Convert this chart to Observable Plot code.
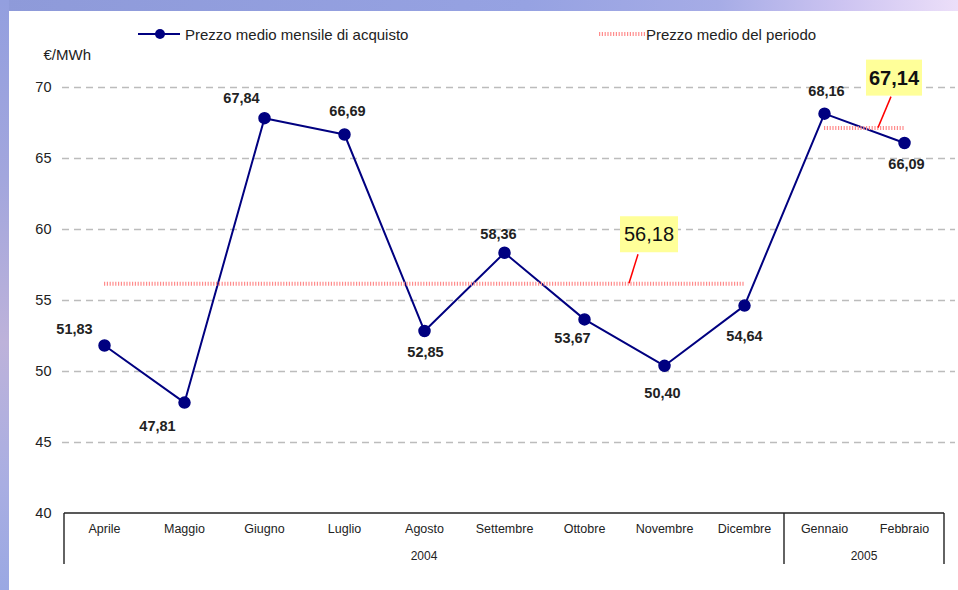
<!DOCTYPE html>
<html>
<head>
<meta charset="utf-8">
<script src="https://cdn.jsdelivr.net/npm/d3@7"></script>
<script src="https://cdn.jsdelivr.net/npm/@observablehq/plot@0.6"></script>
<style>
  html, body { margin: 0; padding: 0; }
  body {
    width: 958px; height: 590px; position: relative; overflow: hidden;
    background: linear-gradient(to right, #8e9ad9 0%, #96a2e2 55%, #a6ace6 75%, #cdc4f1 88%, #ecdff9 100%);
  }
  #leftstrip {
    position: absolute; left: 0; top: 0; width: 9px; height: 590px;
    background: linear-gradient(to bottom, #939fdf 0%, #a2a6dd 30%, #bdb2da 58%, #a9aee2 82%, #9aa8e3 100%);
  }
  #panel {
    position: absolute; left: 9px; top: 11px; width: 949px; height: 579px;
    background: #fff; font-family: "Liberation Sans", Arial, sans-serif; color: #222;
  }
  #legend { position: relative; height: 33px; }
  .lg-item { position: absolute; top: 8px; height: 30px; display: flex; align-items: center; font-size: 15px; }
  .lg-item svg { display: block; }
  #chart svg { display: block; }
</style>
</head>
<body>
<div id="leftstrip"></div>
<div id="panel">
  <div id="legend"></div>
  <div id="chart"></div>
</div>
<script>
// ---- data ----
const months = ["Aprile", "Maggio", "Giugno", "Luglio", "Agosto", "Settembre", "Ottobre", "Novembre", "Dicembre", "Gennaio", "Febbraio"];
const prices = [51.83, 47.81, 67.84, 66.69, 52.85, 58.36, 53.67, 50.40, 54.64, 68.16, 66.09];
const yearLabels = ["2004", "2005"];
const yearMonthCounts = [9, 2];
const periodMeans = [56.18, 67.14];
const periodStart = ["Aprile", "Gennaio"];
const periodEnd = ["Dicembre", "Febbraio"];
const calloutAnchor = ["Novembre", "Febbraio"];
const yTicks = [40, 45, 50, 55, 60, 65, 70];
const seriesName = "Prezzo medio mensile di acquisto";
const meanName = "Prezzo medio del periodo";
const unitLabel = "€/MWh";

// ---- layout (pixel offsets, styles) ----
const labelDx = [-30, -27, -23, 3, 1, -6, -12, -2, 0, 2, 2];
const labelDy = [-16, 24, -20, -23, 21, -18, 19, 28, 31, -22, 21];
const callout = [
  {bx: -15, by: -49, w: 58, h: 36, l1: [-35, 0], l2: [-26, -29], weight: "normal"},
  {bx: -10, by: -50, w: 56, h: 36, l1: [-26, 0], l2: [-13, -31], weight: "bold"}
];
const NAVY = "#000080";
const PINK = "#ff8c8c";
const fmt = v => v.toFixed(2).replace(".", ",");

// ---- legend ----
const legend = document.getElementById("legend");
legend.innerHTML = `
  <div class="lg-item" style="left:129px">
    <svg width="44" height="12"><line x1="0" y1="6" x2="42" y2="6" stroke="${NAVY}" stroke-width="2"/><circle cx="22" cy="6" r="5" fill="${NAVY}"/></svg>
    <span style="margin-left:3px">${seriesName}</span>
  </div>
  <div class="lg-item" style="left:590px">
    <svg width="47" height="12"><line x1="0" y1="6" x2="47" y2="6" stroke="${PINK}" stroke-width="4" stroke-dasharray="1.2,1.6"/></svg>
    <span>${meanName}</span>
  </div>`;

// ---- custom annotation layer (category box, years, callouts) ----
const annotate = (index, scales) => {
  const {x, y} = scales;
  const g = d3.create("svg:g");
  const step = x(months[1]) - x(months[0]);
  const yb = y(yTicks[0]);
  const boxH = 51;
  const left = x(months[0]) - step / 2;
  const right = x(months[months.length - 1]) + step / 2;
  g.append("line").attr("x1", left).attr("x2", right).attr("y1", yb).attr("y2", yb)
    .attr("stroke", "#222").attr("stroke-width", 1.4);
  const edges = [left];
  let k = 0;
  yearLabels.forEach((yl, j) => {
    const first = months[k], last = months[k + yearMonthCounts[j] - 1];
    k += yearMonthCounts[j];
    edges.push(x(last) + step / 2);
    g.append("text").attr("x", (x(first) + x(last)) / 2).attr("y", yb + 43)
      .attr("text-anchor", "middle").attr("dy", "0.35em")
      .attr("font-size", 12).attr("fill", "#222").text(yl);
  });
  edges.forEach(e => g.append("line").attr("x1", e).attr("x2", e).attr("y1", yb).attr("y2", yb + boxH)
    .attr("stroke", "#222").attr("stroke-width", 1.4));
  periodMeans.forEach((m, i) => {
    const ax = x(calloutAnchor[i]), ay = y(m), c = callout[i];
    g.append("line").attr("x1", ax + c.l1[0]).attr("y1", ay + c.l1[1])
      .attr("x2", ax + c.l2[0]).attr("y2", ay + c.l2[1]).attr("stroke", "#ff0000").attr("stroke-width", 1.5);
    g.append("rect").attr("x", ax + c.bx - c.w / 2).attr("y", ay + c.by - c.h / 2)
      .attr("width", c.w).attr("height", c.h).attr("fill", "#ffff99");
    g.append("text").attr("x", ax + c.bx).attr("y", ay + c.by).attr("dy", "0.36em")
      .attr("text-anchor", "middle").attr("font-size", 20).attr("font-weight", c.weight)
      .attr("fill", "#111").text(fmt(m));
  });
  return g.node();
};

const idx = months.map((_, i) => i);

const chart = Plot.plot({
  width: 949,
  height: 546,
  marginTop: 43,
  marginBottom: 77,
  marginLeft: 53,
  marginRight: 3,
  style: {fontFamily: "'Liberation Sans', Arial, sans-serif", fontSize: "12px", background: "transparent", overflow: "visible", color: "#222"},
  x: {type: "point", domain: months, range: [55, 935], padding: 0.5},
  y: {domain: [40, 70], ticks: yTicks},
  marks: [
    Plot.ruleY(yTicks.filter(t => t > yTicks[0]), {stroke: "#bcbcbc", strokeWidth: 1.3, strokeDasharray: "7,5"}),
    Plot.axisY({ticks: yTicks, tickSize: 0, tickPadding: 11, fontSize: 14.5, label: null, tickFormat: d => String(d)}),
    Plot.axisX({tickSize: 0, tickPadding: 11, fontSize: 12.5, label: null}),
    Plot.text([unitLabel], {frameAnchor: "top-left", text: d => d, textAnchor: "start", dx: -19, dy: -38, fontSize: 15, fill: "#222"}),
    Plot.line(idx, {x: i => months[i], y: i => prices[i], stroke: NAVY, strokeWidth: 2}),
    Plot.ruleY(periodMeans.map((m, i) => i), {y: i => periodMeans[i], x1: i => periodStart[i], x2: i => periodEnd[i],
      stroke: PINK, strokeWidth: 4, strokeDasharray: "1.2,1.6"}),
    Plot.dot(idx, {x: i => months[i], y: i => prices[i], r: 5.5, fill: NAVY, stroke: NAVY}),
    ...idx.map(i => Plot.text([i], {x: j => months[j], y: j => prices[j], text: j => fmt(prices[j]),
      dx: labelDx[i], dy: labelDy[i], fontSize: 14.5, fontWeight: "bold", fill: "#222"})),
    annotate
  ]
});
document.getElementById("chart").appendChild(chart);
</script>
</body>
</html>
